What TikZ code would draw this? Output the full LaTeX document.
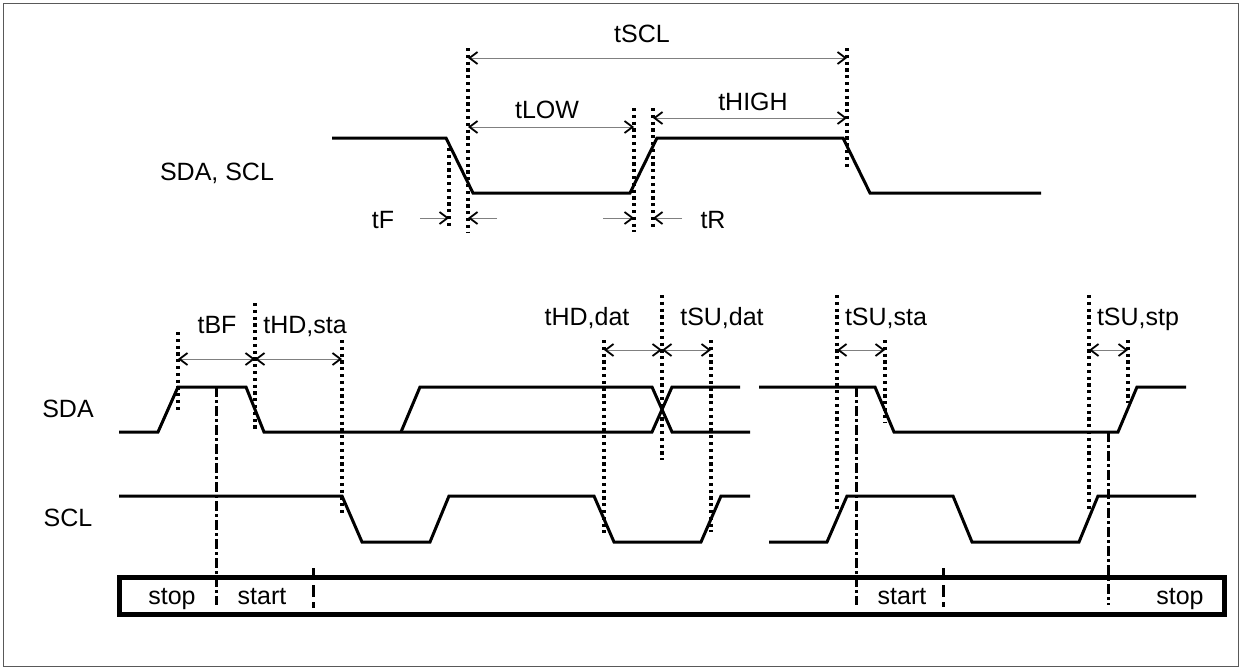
\documentclass[tikz,border=0pt]{standalone}
\usepackage{fontspec}
\setmainfont{Liberation Sans}
\usetikzlibrary{arrows.meta}
\begin{document}
\begin{tikzpicture}[x=0.5pt,y=-0.5pt,
  sig/.style={line width=1.5pt},
  dots/.style={line width=1.6pt, dash pattern=on 1.6pt off 1.8pt},
  dashdot/.style={line width=1.5pt, dash pattern=on 5pt off 1.5pt on 1.5pt off 1.5pt},
  dashline/.style={line width=1.5pt, dash pattern=on 6pt off 2.5pt},
  dim/.style={line width=0.5pt, draw=gray},
  >={Straight Barb[length=4pt,width=6pt,line width=0.9pt,color=black]},
  lbl/.style={inner sep=0pt, anchor=base, font=\fontsize{12.5pt}{14pt}\selectfont}]
\useasboundingbox (0,0) rectangle (1244,669);
\draw[gray!70!black, line width=0.5pt] (3,3) rectangle (1238,666);

% ---------- top diagram ----------
\node[lbl] (lsdascl) at (217,180) {SDA, SCL};
\draw[sig] (332,138) -- (446,138) -- (473,193) -- (630,193) -- (657,138)
  -- (843,138) -- (870,193) -- (1041,193);
\draw[dots] (449,148) -- (449,227);
\draw[dots] (468,48) -- (468,232);
\draw[dots] (634,108) -- (634,232);
\draw[dots] (653,108) -- (653,227);
\draw[dots] (847,48) -- (847,168);
\draw[dim,<->] (468,58) -- (847,58);
\draw[dim,<->] (468,127) -- (634,127);
\draw[dim,<->] (653,118) -- (847,118);
\node[lbl] (ltscl) at (642,42) {tSCL};
\node[lbl] (ltlow) at (547,119) {tLOW};
\node[lbl] (lthigh) at (753,110) {tHIGH};
\node[lbl] (ltf) at (383,228) {tF};
\node[lbl] (ltr) at (713,228) {tR};
\draw[dim,->] (420,218) -- (449,218);
\draw[dim,->] (497,218) -- (468,218);
\draw[dim,->] (603,218) -- (634,218);
\draw[dim,->] (682,218) -- (653,218);

% ---------- bottom diagram ----------
\node[lbl] (lsda) at (68,417) {SDA};
\node[lbl] (lscl) at (68,526) {SCL};

% SDA
\draw[sig] (119,432) -- (158,432) -- (178,387) -- (246,387) -- (264,432)
  -- (652,432) -- (672,387) -- (740,387);
\draw[sig] (401,432) -- (420,387) -- (652,387) -- (672,432) -- (750,432);
\draw[sig] (759,387) -- (875,387) -- (894,432) -- (1118,432) -- (1137,387) -- (1186,387);
% SCL
\draw[sig] (119,496) -- (342,496) -- (362,542) -- (430,542) -- (449,496)
  -- (594,496) -- (614,542) -- (701,542) -- (721,496) -- (750,496);
\draw[sig] (769,542) -- (827,542) -- (847,496) -- (953,496) -- (972,542)
  -- (1079,542) -- (1098,496) -- (1196,496);

% dotted guides
\draw[dots] (178,332) -- (178,413);
\draw[dots] (255,303) -- (255,432);
\draw[dots] (342,340) -- (342,515);
\draw[dots] (604,340) -- (604,533);
\draw[dots] (662,295) -- (662,460);
\draw[dots] (711,340) -- (711,532);
\draw[dots] (837,295) -- (837,512);
\draw[dots] (885,340) -- (885,423);
\draw[dots] (1089,295) -- (1089,512);
\draw[dots] (1128,340) -- (1128,403);

% dimension arrows
\draw[dim,<->] (178,359) -- (255,359);
\draw[dim,<->] (255,359) -- (342,359);
\draw[dim,<->] (604,350) -- (662,350);
\draw[dim,<->] (662,350) -- (711,350);
\draw[dim,<->] (837,350) -- (885,350);
\draw[dim,<->] (1089,350) -- (1128,350);

\node[lbl] (ltbf) at (217,333) {tBF};
\node[lbl] (lthdsta) at (305,333) {tHD,sta};
\node[lbl] (lthddat) at (587,325) {tHD,dat};
\node[lbl] (ltsudat) at (722,325) {tSU,dat};
\node[lbl] (ltsusta) at (886,325) {tSU,sta};
\node[lbl] (ltsustp) at (1138,325) {tSU,stp};

% state bar
\draw[line width=2.5pt] (119,577) rectangle (1224,614);
\draw[dashdot] (216,387) -- (216,605);
\draw[dashdot] (856,387) -- (856,605);
\draw[dashdot] (1108,432) -- (1108,605);
\draw[dashline] (313,568) -- (313,608);
\draw[dashline] (943,568) -- (943,607);
\node[lbl] (lstop1) at (172,604) {stop};
\node[lbl] (lstart1) at (262,604) {start};
\node[lbl] (lstart2) at (902,604) {start};
\node[lbl] (lstop2) at (1180,604) {stop};
\end{tikzpicture}
\end{document}
